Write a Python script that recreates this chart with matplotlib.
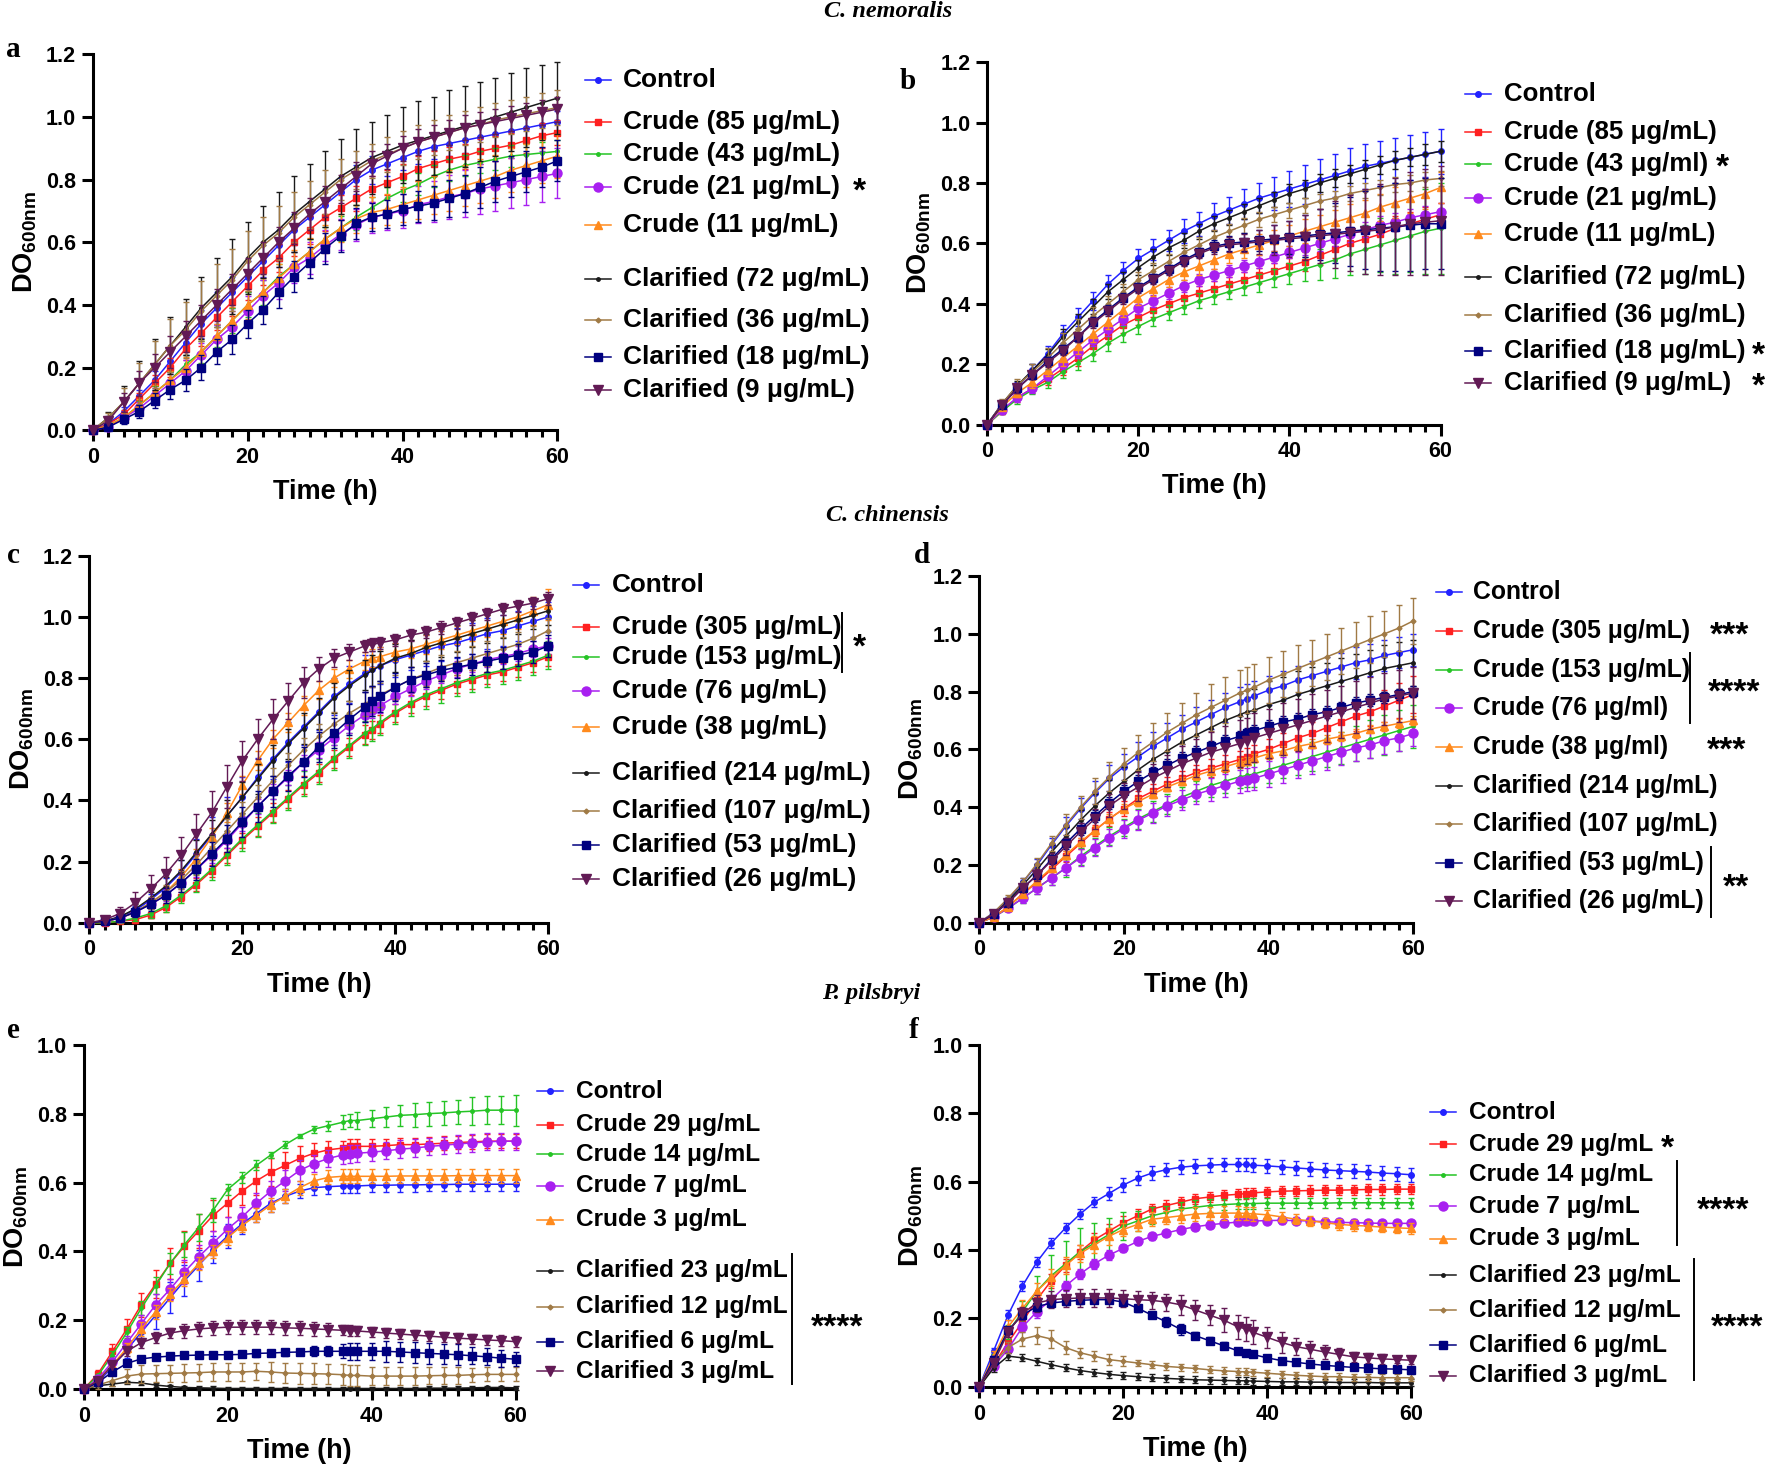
import matplotlib
matplotlib.use("Agg")
import matplotlib.pyplot as plt
from matplotlib.lines import Line2D
from matplotlib.ticker import MultipleLocator, FormatStrFormatter

plt.rcParams["font.family"] = ["Liberation Sans", "DejaVu Sans"]
plt.rcParams["font.weight"] = "bold"
plt.rcParams["mathtext.fontset"] = "custom"
plt.rcParams["mathtext.bf"] = "Liberation Sans:bold"
plt.rcParams["mathtext.rm"] = "Liberation Sans:bold"

# ---------------- data ----------------
t_ab = [0, 2, 4, 6, 8, 10, 12, 14,
        16, 18, 20, 22, 24, 26, 28, 30,
        32, 34, 36, 38, 40, 42, 44, 46,
        48, 50, 52, 54, 56, 58, 60]
t_cf = [0, 2, 4, 6, 8, 10, 12, 14,
        16, 18, 20, 22, 24, 26, 28, 30,
        32, 34, 36, 37, 38, 40, 42, 44,
        46, 48, 50, 52, 54, 56, 58, 60]

# panel a - C. nemoralis
a_ctrl = [0, 0.02, 0.06, 0.11, 0.16, 0.22, 0.28, 0.34,
          0.39, 0.44, 0.49, 0.54, 0.59, 0.64, 0.68, 0.72,
          0.76, 0.80, 0.83, 0.85, 0.87, 0.89, 0.905, 0.915,
          0.925, 0.935, 0.945, 0.955, 0.965, 0.975, 0.985]
a_cr1 = [0, 0.02, 0.05, 0.10, 0.15, 0.20, 0.26, 0.31,
         0.36, 0.41, 0.46, 0.51, 0.55, 0.60, 0.64, 0.68,
         0.71, 0.74, 0.77, 0.79, 0.81, 0.835, 0.85, 0.865,
         0.875, 0.89, 0.90, 0.91, 0.925, 0.94, 0.95]
a_cr2 = [0, 0.015, 0.04, 0.08, 0.12, 0.16, 0.21, 0.25,
         0.30, 0.35, 0.40, 0.44, 0.49, 0.53, 0.57, 0.61,
         0.645, 0.68, 0.71, 0.74, 0.765, 0.785, 0.81, 0.83,
         0.845, 0.855, 0.865, 0.875, 0.88, 0.885, 0.89]
a_cr3 = [0, 0.01, 0.04, 0.07, 0.11, 0.15, 0.19, 0.24,
         0.29, 0.33, 0.38, 0.43, 0.47, 0.52, 0.55, 0.59,
         0.625, 0.655, 0.68, 0.69, 0.70, 0.72, 0.73, 0.745,
         0.755, 0.77, 0.78, 0.79, 0.80, 0.81, 0.82]
a_cr4 = [0, 0.015, 0.04, 0.08, 0.12, 0.16, 0.20, 0.25,
         0.30, 0.35, 0.40, 0.44, 0.485, 0.53, 0.57, 0.61,
         0.645, 0.675, 0.695, 0.705, 0.72, 0.735, 0.75, 0.765,
         0.78, 0.795, 0.81, 0.83, 0.845, 0.86, 0.875]
a_cl1 = [0, 0.04, 0.09, 0.15, 0.21, 0.27, 0.33, 0.39,
         0.44, 0.49, 0.55, 0.60, 0.64, 0.69, 0.73, 0.77,
         0.81, 0.84, 0.87, 0.89, 0.91, 0.925, 0.94, 0.955,
         0.97, 0.985, 1.0, 1.015, 1.03, 1.045, 1.06]
a_cl2 = [0, 0.04, 0.09, 0.15, 0.21, 0.27, 0.32, 0.38,
         0.43, 0.48, 0.54, 0.59, 0.63, 0.68, 0.72, 0.76,
         0.80, 0.83, 0.86, 0.88, 0.90, 0.92, 0.935, 0.95,
         0.965, 0.975, 0.99, 1.0, 1.01, 1.02, 1.03]
a_cl3 = [0, 0.01, 0.035, 0.06, 0.095, 0.13, 0.16, 0.20,
         0.25, 0.29, 0.34, 0.385, 0.44, 0.49, 0.535, 0.58,
         0.62, 0.66, 0.68, 0.69, 0.705, 0.715, 0.725, 0.74,
         0.755, 0.775, 0.795, 0.81, 0.825, 0.84, 0.86]
a_cl4 = [0, 0.03, 0.09, 0.15, 0.20, 0.25, 0.30, 0.35,
         0.40, 0.45, 0.50, 0.55, 0.60, 0.645, 0.69, 0.73,
         0.77, 0.81, 0.85, 0.875, 0.90, 0.92, 0.935, 0.95,
         0.965, 0.975, 0.985, 0.995, 1.005, 1.015, 1.025]

a_ctrl_e = [0, 0.01, 0.015, 0.02, 0.03, 0.035, 0.04, 0.045,
            0.05, 0.05, 0.05, 0.05, 0.05, 0.05, 0.05, 0.05,
            0.045, 0.045, 0.045, 0.04, 0.04, 0.04, 0.04, 0.04,
            0.04, 0.04, 0.04, 0.04, 0.04, 0.04, 0.035]
a_cr1_e = [0, 0.01, 0.015, 0.02, 0.025, 0.03, 0.035, 0.04,
           0.04, 0.045, 0.045, 0.045, 0.045, 0.045, 0.045, 0.045,
           0.04, 0.04, 0.04, 0.04, 0.04, 0.04, 0.04, 0.04,
           0.04, 0.04, 0.04, 0.04, 0.04, 0.04, 0.04]
a_cr2_e = [0, 0.01, 0.01, 0.015, 0.02, 0.025, 0.03, 0.035,
           0.035, 0.04, 0.04, 0.04, 0.04, 0.04, 0.04, 0.04,
           0.04, 0.04, 0.035, 0.035, 0.035, 0.035, 0.035, 0.035,
           0.035, 0.035, 0.035, 0.035, 0.035, 0.035, 0.035]
a_cr3_e = [0, 0.01, 0.015, 0.02, 0.025, 0.03, 0.035, 0.04,
           0.045, 0.05, 0.05, 0.05, 0.05, 0.05, 0.05, 0.05,
           0.05, 0.05, 0.05, 0.05, 0.055, 0.06, 0.065, 0.07,
           0.075, 0.08, 0.08, 0.08, 0.08, 0.08, 0.08]
a_cr4_e = [0, 0.01, 0.015, 0.02, 0.025, 0.03, 0.035, 0.04,
           0.04, 0.045, 0.045, 0.045, 0.045, 0.045, 0.045, 0.045,
           0.045, 0.045, 0.05, 0.05, 0.055, 0.06, 0.06, 0.065,
           0.065, 0.07, 0.07, 0.07, 0.07, 0.07, 0.07]
a_cl1_e = [0, 0.02, 0.05, 0.07, 0.08, 0.09, 0.09, 0.10,
           0.11, 0.12, 0.115, 0.115, 0.12, 0.12, 0.12, 0.12,
           0.12, 0.12, 0.115, 0.115, 0.12, 0.125, 0.125, 0.13,
           0.13, 0.125, 0.125, 0.125, 0.125, 0.12, 0.115]
a_cl2_e = [0, 0.015, 0.045, 0.065, 0.075, 0.085, 0.09, 0.095,
           0.10, 0.10, 0.095, 0.09, 0.085, 0.08, 0.075, 0.07,
           0.065, 0.06, 0.055, 0.055, 0.055, 0.055, 0.055, 0.055,
           0.055, 0.055, 0.055, 0.055, 0.055, 0.055, 0.055]
a_cl3_e = [0, 0.01, 0.015, 0.02, 0.025, 0.03, 0.035, 0.04,
           0.04, 0.045, 0.045, 0.045, 0.05, 0.05, 0.05, 0.05,
           0.05, 0.05, 0.045, 0.045, 0.05, 0.05, 0.055, 0.06,
           0.06, 0.065, 0.065, 0.065, 0.065, 0.065, 0.065]
a_cl4_e = [0, 0.015, 0.03, 0.04, 0.045, 0.05, 0.05, 0.05,
           0.05, 0.05, 0.05, 0.05, 0.05, 0.05, 0.05, 0.05,
           0.045, 0.045, 0.04, 0.04, 0.04, 0.04, 0.04, 0.04,
           0.04, 0.04, 0.04, 0.04, 0.04, 0.04, 0.04]

# panel b - C. nemoralis
b_ctrl = [0, 0.07, 0.125, 0.18, 0.235, 0.30, 0.355, 0.41,
          0.465, 0.51, 0.55, 0.58, 0.61, 0.64, 0.665, 0.69,
          0.71, 0.73, 0.75, 0.765, 0.78, 0.795, 0.81, 0.825,
          0.84, 0.855, 0.865, 0.875, 0.885, 0.895, 0.905]
b_cr1 = [0, 0.045, 0.09, 0.12, 0.15, 0.185, 0.22, 0.26,
         0.295, 0.33, 0.355, 0.38, 0.40, 0.42, 0.435, 0.45,
         0.465, 0.48, 0.495, 0.51, 0.525, 0.54, 0.56, 0.58,
         0.60, 0.615, 0.63, 0.65, 0.665, 0.68, 0.695]
b_cr2 = [0, 0.045, 0.085, 0.115, 0.14, 0.175, 0.205, 0.235,
         0.27, 0.30, 0.325, 0.35, 0.37, 0.39, 0.41, 0.425,
         0.44, 0.455, 0.47, 0.485, 0.50, 0.515, 0.53, 0.545,
         0.565, 0.58, 0.595, 0.61, 0.625, 0.64, 0.65]
b_cr3 = [0, 0.05, 0.09, 0.12, 0.16, 0.20, 0.24, 0.28,
         0.315, 0.35, 0.385, 0.41, 0.435, 0.46, 0.48, 0.495,
         0.51, 0.525, 0.54, 0.555, 0.57, 0.585, 0.60, 0.615,
         0.63, 0.645, 0.66, 0.67, 0.685, 0.695, 0.705]
b_cr4 = [0, 0.06, 0.105, 0.14, 0.18, 0.22, 0.26, 0.30,
         0.34, 0.38, 0.42, 0.45, 0.48, 0.505, 0.525, 0.545,
         0.565, 0.58, 0.595, 0.61, 0.625, 0.64, 0.655, 0.67,
         0.685, 0.70, 0.72, 0.735, 0.75, 0.765, 0.785]
b_cl1 = [0, 0.07, 0.13, 0.18, 0.23, 0.29, 0.34, 0.39,
         0.44, 0.48, 0.52, 0.555, 0.585, 0.61, 0.64, 0.665,
         0.685, 0.705, 0.725, 0.745, 0.765, 0.78, 0.80, 0.815,
         0.83, 0.845, 0.86, 0.875, 0.885, 0.895, 0.905]
b_cl2 = [0, 0.07, 0.13, 0.175, 0.22, 0.27, 0.315, 0.36,
         0.40, 0.44, 0.48, 0.51, 0.54, 0.57, 0.595, 0.62,
         0.64, 0.66, 0.68, 0.695, 0.71, 0.725, 0.74, 0.75,
         0.765, 0.775, 0.785, 0.795, 0.80, 0.81, 0.815]
b_cl3 = [0, 0.065, 0.12, 0.165, 0.21, 0.25, 0.29, 0.34,
         0.38, 0.42, 0.455, 0.485, 0.515, 0.545, 0.57, 0.59,
         0.60, 0.605, 0.61, 0.615, 0.62, 0.625, 0.63, 0.635,
         0.64, 0.645, 0.65, 0.655, 0.66, 0.665, 0.665]
b_cl4 = [0, 0.065, 0.12, 0.165, 0.205, 0.245, 0.29, 0.335,
         0.375, 0.415, 0.45, 0.48, 0.51, 0.54, 0.565, 0.585,
         0.595, 0.60, 0.605, 0.61, 0.615, 0.62, 0.625, 0.63,
         0.635, 0.64, 0.645, 0.655, 0.665, 0.67, 0.675]

b_ctrl_e = [0, 0.01, 0.015, 0.02, 0.025, 0.03, 0.03, 0.03,
            0.03, 0.03, 0.03, 0.035, 0.035, 0.04, 0.04, 0.045,
            0.045, 0.05, 0.05, 0.055, 0.06, 0.065, 0.07, 0.07,
            0.075, 0.075, 0.075, 0.075, 0.075, 0.075, 0.075]
b_cr1_e = [0, 0.01, 0.015, 0.015, 0.02, 0.02, 0.025, 0.025,
           0.025, 0.025, 0.025, 0.025, 0.025, 0.025, 0.025, 0.025,
           0.025, 0.025, 0.025, 0.025, 0.025, 0.03, 0.03, 0.03,
           0.035, 0.035, 0.035, 0.04, 0.04, 0.04, 0.04]
b_cr2_e = [0, 0.01, 0.015, 0.015, 0.02, 0.02, 0.025, 0.025,
           0.025, 0.025, 0.025, 0.025, 0.025, 0.025, 0.025, 0.025,
           0.025, 0.025, 0.03, 0.03, 0.035, 0.04, 0.05, 0.06,
           0.07, 0.08, 0.09, 0.11, 0.12, 0.14, 0.15]
b_cr3_e = [0, 0.01, 0.015, 0.015, 0.02, 0.02, 0.02, 0.02,
           0.02, 0.02, 0.02, 0.02, 0.02, 0.02, 0.02, 0.02,
           0.02, 0.02, 0.02, 0.02, 0.02, 0.025, 0.025, 0.025,
           0.025, 0.025, 0.03, 0.03, 0.03, 0.03, 0.03]
b_cr4_e = [0, 0.01, 0.015, 0.02, 0.02, 0.025, 0.025, 0.025,
           0.025, 0.025, 0.025, 0.025, 0.025, 0.025, 0.03, 0.03,
           0.03, 0.03, 0.035, 0.035, 0.035, 0.04, 0.04, 0.04,
           0.045, 0.045, 0.045, 0.05, 0.05, 0.05, 0.05]
b_cl1_e = [0, 0.01, 0.015, 0.02, 0.02, 0.025, 0.025, 0.025,
           0.025, 0.025, 0.025, 0.025, 0.025, 0.025, 0.025, 0.025,
           0.025, 0.025, 0.025, 0.025, 0.03, 0.03, 0.03, 0.03,
           0.03, 0.03, 0.03, 0.03, 0.03, 0.035, 0.035]
b_cl2_e = [0, 0.015, 0.02, 0.025, 0.035, 0.035, 0.035, 0.03,
           0.025, 0.025, 0.025, 0.025, 0.025, 0.025, 0.025, 0.025,
           0.025, 0.025, 0.025, 0.025, 0.025, 0.025, 0.025, 0.025,
           0.025, 0.025, 0.025, 0.025, 0.025, 0.025, 0.025]
b_cl3_e = [0, 0.01, 0.015, 0.015, 0.015, 0.015, 0.015, 0.015,
           0.015, 0.015, 0.015, 0.015, 0.015, 0.015, 0.015, 0.02,
           0.025, 0.03, 0.035, 0.045, 0.055, 0.07, 0.085, 0.10,
           0.115, 0.13, 0.14, 0.145, 0.15, 0.15, 0.15]
b_cl4_e = [0, 0.01, 0.015, 0.015, 0.015, 0.015, 0.015, 0.015,
           0.015, 0.015, 0.015, 0.015, 0.015, 0.015, 0.015, 0.02,
           0.025, 0.03, 0.04, 0.05, 0.06, 0.075, 0.09, 0.11,
           0.125, 0.14, 0.15, 0.16, 0.17, 0.175, 0.18]

# panel c - C. chinensis
c_ctrl = [0, 0.005, 0.02, 0.04, 0.075, 0.115, 0.165, 0.225,
          0.285, 0.35, 0.41, 0.475, 0.535, 0.59, 0.64, 0.69,
          0.74, 0.78, 0.815, 0.83, 0.84, 0.86, 0.875, 0.89,
          0.905, 0.915, 0.93, 0.945, 0.955, 0.97, 0.985, 1.0]
c_cr1 = [0, 0.0, 0.005, 0.01, 0.025, 0.05, 0.085, 0.125,
         0.17, 0.22, 0.27, 0.315, 0.36, 0.405, 0.45, 0.49,
         0.535, 0.575, 0.615, 0.63, 0.65, 0.685, 0.715, 0.74,
         0.76, 0.78, 0.795, 0.81, 0.82, 0.835, 0.85, 0.87]
c_cr2 = [0, 0.0, 0.005, 0.015, 0.03, 0.055, 0.09, 0.13,
         0.175, 0.225, 0.275, 0.32, 0.365, 0.41, 0.455, 0.495,
         0.54, 0.58, 0.62, 0.635, 0.655, 0.69, 0.72, 0.745,
         0.765, 0.785, 0.80, 0.815, 0.825, 0.84, 0.855, 0.875]
c_cr3 = [0, 0.005, 0.015, 0.035, 0.06, 0.09, 0.13, 0.175,
         0.22, 0.27, 0.325, 0.38, 0.43, 0.475, 0.525, 0.565,
         0.605, 0.645, 0.68, 0.695, 0.71, 0.74, 0.765, 0.79,
         0.81, 0.83, 0.845, 0.86, 0.87, 0.88, 0.895, 0.905]
c_cr4 = [0, 0.005, 0.015, 0.035, 0.065, 0.10, 0.15, 0.21,
         0.28, 0.36, 0.45, 0.53, 0.60, 0.655, 0.71, 0.76,
         0.80, 0.83, 0.855, 0.865, 0.87, 0.885, 0.895, 0.91,
         0.925, 0.94, 0.955, 0.97, 0.985, 1.0, 1.02, 1.04]
c_cl1 = [0, 0.005, 0.02, 0.045, 0.08, 0.12, 0.17, 0.23,
         0.29, 0.35, 0.41, 0.47, 0.53, 0.585, 0.635, 0.685,
         0.735, 0.775, 0.81, 0.825, 0.84, 0.865, 0.88, 0.90,
         0.915, 0.93, 0.945, 0.96, 0.975, 0.99, 1.005, 1.02]
c_cl2 = [0, 0.005, 0.015, 0.035, 0.065, 0.10, 0.14, 0.19,
         0.245, 0.30, 0.355, 0.41, 0.465, 0.515, 0.565, 0.61,
         0.65, 0.685, 0.715, 0.73, 0.745, 0.77, 0.795, 0.815,
         0.835, 0.85, 0.865, 0.88, 0.895, 0.91, 0.93, 0.955]
c_cl3 = [0, 0.005, 0.015, 0.035, 0.06, 0.09, 0.13, 0.175,
         0.225, 0.275, 0.33, 0.38, 0.43, 0.48, 0.525, 0.575,
         0.62, 0.665, 0.705, 0.725, 0.74, 0.77, 0.795, 0.81,
         0.825, 0.835, 0.845, 0.855, 0.865, 0.875, 0.885, 0.905]
c_cl4 = [0, 0.01, 0.03, 0.065, 0.11, 0.16, 0.22, 0.29,
         0.36, 0.445, 0.53, 0.60, 0.665, 0.725, 0.785, 0.83,
         0.865, 0.885, 0.905, 0.91, 0.915, 0.925, 0.94, 0.95,
         0.965, 0.98, 0.995, 1.01, 1.025, 1.035, 1.045, 1.06]

c_ctrl_e = [0, 0.005, 0.01, 0.015, 0.02, 0.03, 0.04, 0.05,
            0.06, 0.06, 0.065, 0.065, 0.065, 0.065, 0.06, 0.06,
            0.06, 0.06, 0.06, 0.06, 0.06, 0.055, 0.05, 0.05,
            0.05, 0.05, 0.05, 0.05, 0.05, 0.05, 0.05, 0.05]
c_cr1_e = [0, 0.005, 0.005, 0.01, 0.01, 0.015, 0.015, 0.02,
           0.02, 0.025, 0.025, 0.03, 0.03, 0.03, 0.03, 0.03,
           0.03, 0.03, 0.03, 0.03, 0.03, 0.03, 0.03, 0.03,
           0.03, 0.03, 0.03, 0.03, 0.03, 0.03, 0.03, 0.03]
c_cr2_e = [0, 0.005, 0.005, 0.01, 0.015, 0.02, 0.025, 0.03,
           0.035, 0.035, 0.04, 0.04, 0.04, 0.04, 0.04, 0.04,
           0.04, 0.04, 0.04, 0.04, 0.04, 0.04, 0.045, 0.045,
           0.045, 0.045, 0.045, 0.045, 0.045, 0.045, 0.045, 0.045]
c_cr3_e = [0, 0.005, 0.01, 0.01, 0.015, 0.02, 0.02, 0.025,
           0.025, 0.025, 0.025, 0.025, 0.025, 0.025, 0.025, 0.025,
           0.025, 0.025, 0.025, 0.025, 0.025, 0.025, 0.025, 0.025,
           0.025, 0.025, 0.025, 0.025, 0.025, 0.025, 0.025, 0.025]
c_cr4_e = [0, 0.005, 0.01, 0.01, 0.015, 0.02, 0.025, 0.03,
           0.03, 0.03, 0.03, 0.03, 0.03, 0.03, 0.03, 0.03,
           0.03, 0.03, 0.03, 0.03, 0.03, 0.03, 0.03, 0.03,
           0.03, 0.03, 0.035, 0.035, 0.04, 0.04, 0.045, 0.05]
c_cl1_e = [0, 0.005, 0.01, 0.015, 0.02, 0.03, 0.035, 0.04,
           0.045, 0.05, 0.05, 0.05, 0.05, 0.05, 0.05, 0.05,
           0.05, 0.05, 0.05, 0.05, 0.05, 0.045, 0.045, 0.045,
           0.045, 0.045, 0.045, 0.045, 0.045, 0.045, 0.045, 0.045]
c_cl2_e = [0, 0.005, 0.01, 0.015, 0.02, 0.025, 0.03, 0.035,
           0.04, 0.04, 0.04, 0.04, 0.04, 0.04, 0.04, 0.04,
           0.04, 0.04, 0.04, 0.04, 0.04, 0.04, 0.04, 0.04,
           0.04, 0.04, 0.04, 0.04, 0.04, 0.04, 0.04, 0.04]
c_cl3_e = [0, 0.005, 0.01, 0.015, 0.02, 0.025, 0.03, 0.035,
           0.04, 0.045, 0.05, 0.05, 0.05, 0.05, 0.05, 0.05,
           0.05, 0.05, 0.05, 0.05, 0.05, 0.045, 0.04, 0.04,
           0.035, 0.035, 0.035, 0.035, 0.035, 0.035, 0.035, 0.035]
c_cl4_e = [0, 0.01, 0.02, 0.035, 0.045, 0.055, 0.06, 0.065,
           0.07, 0.07, 0.065, 0.065, 0.065, 0.06, 0.05, 0.04,
           0.03, 0.025, 0.02, 0.02, 0.02, 0.02, 0.02, 0.02,
           0.02, 0.02, 0.02, 0.02, 0.02, 0.02, 0.02, 0.02]

# panel d - C. chinensis
d_ctrl = [0, 0.035, 0.08, 0.14, 0.20, 0.27, 0.335, 0.395,
          0.45, 0.50, 0.54, 0.575, 0.61, 0.64, 0.67, 0.695,
          0.72, 0.745, 0.765, 0.775, 0.785, 0.805, 0.82, 0.84,
          0.855, 0.87, 0.885, 0.90, 0.91, 0.925, 0.935, 0.945]
d_cr1 = [0, 0.02, 0.055, 0.10, 0.14, 0.185, 0.23, 0.275,
         0.32, 0.36, 0.395, 0.43, 0.455, 0.48, 0.50, 0.52,
         0.535, 0.55, 0.565, 0.575, 0.585, 0.60, 0.62, 0.64,
         0.655, 0.675, 0.695, 0.715, 0.73, 0.75, 0.77, 0.79]
d_cr2 = [0, 0.02, 0.05, 0.085, 0.12, 0.155, 0.19, 0.23,
         0.265, 0.30, 0.33, 0.36, 0.385, 0.41, 0.435, 0.455,
         0.475, 0.49, 0.505, 0.51, 0.515, 0.53, 0.545, 0.56,
         0.575, 0.59, 0.605, 0.62, 0.635, 0.65, 0.665, 0.68]
d_cr3 = [0, 0.02, 0.05, 0.085, 0.12, 0.155, 0.19, 0.225,
         0.26, 0.295, 0.325, 0.355, 0.38, 0.405, 0.425, 0.445,
         0.46, 0.475, 0.49, 0.495, 0.50, 0.515, 0.53, 0.545,
         0.56, 0.575, 0.59, 0.605, 0.615, 0.63, 0.64, 0.655]
d_cr4 = [0, 0.02, 0.055, 0.10, 0.145, 0.19, 0.235, 0.28,
         0.32, 0.36, 0.395, 0.42, 0.445, 0.47, 0.49, 0.51,
         0.525, 0.54, 0.555, 0.56, 0.57, 0.585, 0.595, 0.61,
         0.62, 0.635, 0.645, 0.655, 0.67, 0.68, 0.69, 0.70]
d_cl1 = [0, 0.03, 0.075, 0.13, 0.185, 0.245, 0.30, 0.355,
         0.405, 0.45, 0.49, 0.53, 0.565, 0.595, 0.625, 0.65,
         0.675, 0.70, 0.72, 0.73, 0.735, 0.755, 0.77, 0.79,
         0.805, 0.82, 0.835, 0.85, 0.865, 0.88, 0.89, 0.90]
d_cl2 = [0, 0.035, 0.085, 0.14, 0.205, 0.275, 0.34, 0.40,
         0.455, 0.505, 0.55, 0.59, 0.625, 0.66, 0.69, 0.72,
         0.745, 0.77, 0.795, 0.805, 0.815, 0.84, 0.86, 0.88,
         0.90, 0.92, 0.94, 0.96, 0.98, 1.0, 1.02, 1.045]
d_cl3 = [0, 0.03, 0.07, 0.12, 0.165, 0.22, 0.275, 0.325,
         0.37, 0.415, 0.455, 0.49, 0.52, 0.545, 0.57, 0.59,
         0.61, 0.63, 0.645, 0.655, 0.665, 0.68, 0.695, 0.705,
         0.72, 0.73, 0.745, 0.76, 0.77, 0.78, 0.79, 0.80]
d_cl4 = [0, 0.03, 0.07, 0.12, 0.165, 0.215, 0.265, 0.315,
         0.36, 0.405, 0.44, 0.47, 0.50, 0.525, 0.55, 0.57,
         0.59, 0.605, 0.62, 0.63, 0.64, 0.655, 0.67, 0.685,
         0.70, 0.715, 0.73, 0.745, 0.76, 0.775, 0.785, 0.795]

d_ctrl_e = [0, 0.005, 0.01, 0.015, 0.02, 0.025, 0.03, 0.035,
            0.04, 0.045, 0.045, 0.05, 0.05, 0.05, 0.05, 0.05,
            0.05, 0.05, 0.05, 0.05, 0.05, 0.05, 0.05, 0.05,
            0.05, 0.05, 0.05, 0.055, 0.055, 0.055, 0.055, 0.055]
d_cr1_e = [0, 0.005, 0.01, 0.015, 0.02, 0.02, 0.02, 0.02,
           0.02, 0.025, 0.025, 0.025, 0.025, 0.025, 0.025, 0.025,
           0.03, 0.03, 0.03, 0.03, 0.03, 0.035, 0.035, 0.04,
           0.04, 0.045, 0.045, 0.05, 0.05, 0.055, 0.06, 0.065]
d_cr2_e = [0, 0.005, 0.01, 0.015, 0.02, 0.025, 0.03, 0.03,
           0.03, 0.03, 0.03, 0.035, 0.035, 0.035, 0.035, 0.035,
           0.04, 0.04, 0.04, 0.04, 0.045, 0.045, 0.045, 0.05,
           0.05, 0.05, 0.055, 0.06, 0.065, 0.07, 0.07, 0.075]
d_cr3_e = [0, 0.005, 0.01, 0.015, 0.02, 0.025, 0.025, 0.03,
           0.03, 0.03, 0.03, 0.035, 0.035, 0.035, 0.035, 0.035,
           0.04, 0.04, 0.04, 0.04, 0.04, 0.045, 0.045, 0.045,
           0.045, 0.045, 0.045, 0.045, 0.045, 0.045, 0.045, 0.045]
d_cr4_e = [0, 0.005, 0.01, 0.01, 0.015, 0.015, 0.015, 0.015,
           0.015, 0.015, 0.015, 0.015, 0.015, 0.015, 0.015, 0.015,
           0.015, 0.015, 0.015, 0.015, 0.015, 0.015, 0.015, 0.015,
           0.015, 0.015, 0.015, 0.015, 0.015, 0.015, 0.015, 0.015]
d_cl1_e = [0, 0.005, 0.01, 0.015, 0.02, 0.025, 0.03, 0.035,
           0.04, 0.045, 0.05, 0.055, 0.06, 0.065, 0.065, 0.07,
           0.07, 0.075, 0.075, 0.075, 0.075, 0.08, 0.08, 0.08,
           0.08, 0.08, 0.08, 0.08, 0.08, 0.08, 0.08, 0.08]
d_cl2_e = [0, 0.005, 0.01, 0.015, 0.02, 0.025, 0.035, 0.04,
           0.045, 0.05, 0.055, 0.06, 0.065, 0.065, 0.07, 0.075,
           0.08, 0.08, 0.08, 0.08, 0.08, 0.08, 0.08, 0.08,
           0.08, 0.08, 0.08, 0.08, 0.08, 0.08, 0.08, 0.08]
d_cl3_e = [0, 0.005, 0.01, 0.01, 0.015, 0.015, 0.02, 0.02,
           0.02, 0.02, 0.02, 0.02, 0.02, 0.02, 0.02, 0.02,
           0.02, 0.02, 0.02, 0.02, 0.02, 0.02, 0.02, 0.02,
           0.02, 0.02, 0.02, 0.02, 0.02, 0.02, 0.02, 0.02]
d_cl4_e = [0, 0.005, 0.01, 0.015, 0.02, 0.025, 0.03, 0.03,
           0.035, 0.04, 0.045, 0.05, 0.05, 0.055, 0.06, 0.065,
           0.07, 0.075, 0.08, 0.08, 0.085, 0.085, 0.09, 0.09,
           0.09, 0.09, 0.09, 0.09, 0.09, 0.09, 0.09, 0.09]

# panel e - P. pilsbryi
e_ctrl = [0, 0.02, 0.065, 0.115, 0.165, 0.215, 0.265, 0.315,
          0.36, 0.405, 0.445, 0.48, 0.51, 0.54, 0.56, 0.575,
          0.585, 0.588, 0.59, 0.59, 0.59, 0.592, 0.592, 0.593,
          0.593, 0.594, 0.594, 0.595, 0.595, 0.595, 0.595, 0.595]
e_cr1 = [0, 0.045, 0.11, 0.175, 0.245, 0.305, 0.365, 0.415,
         0.46, 0.505, 0.54, 0.575, 0.605, 0.63, 0.65, 0.67,
         0.685, 0.695, 0.70, 0.705, 0.705, 0.705, 0.707, 0.71,
         0.71, 0.712, 0.714, 0.716, 0.718, 0.72, 0.72, 0.72]
e_cr2 = [0, 0.04, 0.10, 0.165, 0.235, 0.30, 0.365, 0.42,
         0.47, 0.52, 0.58, 0.615, 0.65, 0.68, 0.71, 0.735,
         0.755, 0.765, 0.775, 0.78, 0.78, 0.785, 0.79, 0.795,
         0.797, 0.80, 0.802, 0.805, 0.807, 0.81, 0.81, 0.81]
e_cr3 = [0, 0.03, 0.08, 0.135, 0.19, 0.245, 0.29, 0.34,
         0.385, 0.425, 0.465, 0.50, 0.54, 0.575, 0.605, 0.635,
         0.655, 0.67, 0.68, 0.683, 0.685, 0.688, 0.692, 0.697,
         0.70, 0.705, 0.708, 0.712, 0.715, 0.718, 0.72, 0.72]
e_cr4 = [0, 0.025, 0.07, 0.12, 0.175, 0.225, 0.275, 0.32,
         0.365, 0.40, 0.44, 0.475, 0.505, 0.535, 0.56, 0.585,
         0.605, 0.615, 0.618, 0.618, 0.618, 0.618, 0.618, 0.619,
         0.619, 0.619, 0.619, 0.62, 0.62, 0.62, 0.62, 0.62]
e_cl1 = [0, 0.01, 0.015, 0.02, 0.018, 0.012, 0.008, 0.005,
         0.004, 0.003, 0.002, 0.002, 0.002, 0.002, 0.002, 0.002,
         0.002, 0.002, 0.002, 0.002, 0.002, 0.002, 0.002, 0.002,
         0.002, 0.003, 0.003, 0.003, 0.004, 0.005, 0.005, 0.004]
e_cl2 = [0, 0.012, 0.025, 0.038, 0.044, 0.045, 0.046, 0.047,
         0.048, 0.05, 0.05, 0.05, 0.052, 0.05, 0.047, 0.046,
         0.045, 0.044, 0.042, 0.04, 0.04, 0.038, 0.038, 0.038,
         0.038, 0.039, 0.04, 0.04, 0.042, 0.043, 0.043, 0.043]
e_cl3 = [0, 0.02, 0.05, 0.075, 0.088, 0.093, 0.096, 0.098,
         0.099, 0.10, 0.10, 0.101, 0.104, 0.105, 0.107, 0.108,
         0.11, 0.11, 0.11, 0.11, 0.11, 0.11, 0.11, 0.108,
         0.106, 0.104, 0.102, 0.10, 0.097, 0.094, 0.09, 0.087]
e_cl4 = [0, 0.025, 0.07, 0.11, 0.135, 0.15, 0.163, 0.17,
         0.175, 0.178, 0.18, 0.18, 0.18, 0.18, 0.178, 0.177,
         0.175, 0.173, 0.171, 0.17, 0.169, 0.166, 0.163, 0.16,
         0.157, 0.154, 0.151, 0.148, 0.146, 0.143, 0.141, 0.138]

e_ctrl_e = [0, 0.01, 0.015, 0.025, 0.03, 0.04, 0.045, 0.045,
            0.045, 0.04, 0.035, 0.03, 0.025, 0.025, 0.02, 0.02,
            0.02, 0.02, 0.02, 0.02, 0.02, 0.02, 0.02, 0.02,
            0.02, 0.02, 0.02, 0.02, 0.02, 0.02, 0.02, 0.02]
e_cr1_e = [0, 0.01, 0.02, 0.03, 0.035, 0.04, 0.045, 0.045,
           0.05, 0.045, 0.04, 0.04, 0.04, 0.04, 0.04, 0.035,
           0.03, 0.025, 0.02, 0.02, 0.02, 0.02, 0.02, 0.02,
           0.02, 0.02, 0.02, 0.02, 0.02, 0.02, 0.02, 0.02]
e_cr2_e = [0, 0.005, 0.01, 0.015, 0.02, 0.025, 0.03, 0.035,
           0.04, 0.035, 0.015, 0.015, 0.015, 0.01, 0.01, 0.005,
           0.01, 0.015, 0.02, 0.02, 0.025, 0.025, 0.03, 0.03,
           0.035, 0.035, 0.035, 0.035, 0.04, 0.04, 0.04, 0.045]
e_cr3_e = [0, 0.01, 0.015, 0.02, 0.025, 0.03, 0.03, 0.035,
           0.035, 0.035, 0.035, 0.03, 0.03, 0.03, 0.03, 0.03,
           0.025, 0.025, 0.025, 0.025, 0.025, 0.025, 0.025, 0.025,
           0.025, 0.025, 0.025, 0.025, 0.025, 0.025, 0.025, 0.025]
e_cr4_e = [0, 0.005, 0.01, 0.015, 0.02, 0.02, 0.02, 0.02,
           0.02, 0.02, 0.02, 0.02, 0.02, 0.02, 0.02, 0.02,
           0.02, 0.02, 0.02, 0.02, 0.02, 0.02, 0.02, 0.02,
           0.02, 0.02, 0.02, 0.02, 0.02, 0.02, 0.02, 0.02]
e_cl1_e = [0, 0.005, 0.005, 0.005, 0.005, 0.005, 0.005, 0.005,
           0.005, 0.005, 0.005, 0.005, 0.005, 0.005, 0.005, 0.005,
           0.005, 0.005, 0.005, 0.005, 0.005, 0.005, 0.005, 0.005,
           0.005, 0.005, 0.005, 0.005, 0.005, 0.005, 0.005, 0.005]
e_cl2_e = [0, 0.01, 0.015, 0.02, 0.025, 0.025, 0.025, 0.025,
           0.025, 0.025, 0.025, 0.025, 0.025, 0.03, 0.03, 0.03,
           0.03, 0.03, 0.03, 0.03, 0.03, 0.025, 0.025, 0.025,
           0.025, 0.025, 0.025, 0.025, 0.02, 0.02, 0.02, 0.02]
e_cl3_e = [0, 0.005, 0.005, 0.005, 0.005, 0.005, 0.005, 0.005,
           0.005, 0.005, 0.005, 0.005, 0.01, 0.01, 0.01, 0.01,
           0.015, 0.015, 0.02, 0.025, 0.025, 0.025, 0.03, 0.03,
           0.03, 0.03, 0.03, 0.03, 0.025, 0.025, 0.025, 0.02]
e_cl4_e = [0, 0.005, 0.01, 0.015, 0.015, 0.015, 0.015, 0.02,
           0.02, 0.02, 0.02, 0.02, 0.02, 0.02, 0.02, 0.02,
           0.02, 0.02, 0.015, 0.015, 0.015, 0.015, 0.015, 0.015,
           0.015, 0.015, 0.015, 0.015, 0.015, 0.015, 0.015, 0.015]

# panel f - P. pilsbryi
f_ctrl = [0, 0.105, 0.21, 0.295, 0.365, 0.42, 0.465, 0.505,
          0.54, 0.565, 0.59, 0.61, 0.625, 0.635, 0.642, 0.646,
          0.648, 0.65, 0.65, 0.65, 0.648, 0.646, 0.643, 0.64,
          0.637, 0.634, 0.632, 0.63, 0.628, 0.625, 0.623, 0.62]
f_cr1 = [0, 0.065, 0.13, 0.19, 0.255, 0.31, 0.355, 0.395,
         0.43, 0.455, 0.48, 0.50, 0.52, 0.53, 0.54, 0.55,
         0.555, 0.56, 0.563, 0.565, 0.567, 0.57, 0.572, 0.573,
         0.574, 0.575, 0.575, 0.576, 0.577, 0.577, 0.578, 0.578]
f_cr2 = [0, 0.085, 0.16, 0.22, 0.28, 0.325, 0.36, 0.395,
         0.42, 0.445, 0.47, 0.485, 0.50, 0.51, 0.52, 0.525,
         0.53, 0.533, 0.535, 0.536, 0.536, 0.537, 0.537, 0.537,
         0.537, 0.537, 0.538, 0.538, 0.538, 0.538, 0.538, 0.538]
f_cr3 = [0, 0.06, 0.11, 0.175, 0.22, 0.255, 0.295, 0.33,
         0.36, 0.385, 0.405, 0.425, 0.44, 0.45, 0.46, 0.468,
         0.474, 0.478, 0.482, 0.484, 0.485, 0.486, 0.487, 0.486,
         0.485, 0.483, 0.481, 0.48, 0.479, 0.478, 0.478, 0.478]
f_cr4 = [0, 0.09, 0.175, 0.23, 0.28, 0.32, 0.355, 0.39,
         0.415, 0.44, 0.46, 0.475, 0.49, 0.495, 0.50, 0.505,
         0.507, 0.508, 0.508, 0.507, 0.506, 0.503, 0.497, 0.49,
         0.485, 0.48, 0.475, 0.472, 0.47, 0.467, 0.465, 0.463]
f_cl1 = [0, 0.055, 0.09, 0.085, 0.075, 0.065, 0.056, 0.048,
         0.042, 0.037, 0.033, 0.03, 0.027, 0.025, 0.023, 0.021,
         0.02, 0.019, 0.018, 0.018, 0.017, 0.016, 0.015, 0.015,
         0.014, 0.014, 0.013, 0.013, 0.013, 0.012, 0.012, 0.012]
f_cl2 = [0, 0.07, 0.115, 0.14, 0.15, 0.14, 0.115, 0.10,
         0.09, 0.08, 0.075, 0.07, 0.065, 0.06, 0.057, 0.054,
         0.05, 0.047, 0.045, 0.044, 0.043, 0.04, 0.037, 0.034,
         0.032, 0.03, 0.03, 0.028, 0.028, 0.027, 0.027, 0.027]
f_cl3 = [0, 0.08, 0.165, 0.21, 0.235, 0.245, 0.25, 0.253,
         0.255, 0.255, 0.248, 0.23, 0.21, 0.19, 0.168, 0.15,
         0.135, 0.12, 0.105, 0.10, 0.095, 0.085, 0.077, 0.072,
         0.067, 0.063, 0.06, 0.057, 0.055, 0.053, 0.052, 0.05]
f_cl4 = [0, 0.07, 0.16, 0.215, 0.245, 0.255, 0.258, 0.26,
         0.26, 0.26, 0.258, 0.255, 0.253, 0.248, 0.24, 0.225,
         0.21, 0.195, 0.175, 0.17, 0.16, 0.145, 0.13, 0.118,
         0.11, 0.102, 0.095, 0.088, 0.085, 0.082, 0.08, 0.078]

f_ctrl_e = [0, 0.01, 0.015, 0.015, 0.015, 0.015, 0.015, 0.015,
            0.015, 0.02, 0.02, 0.02, 0.02, 0.02, 0.02, 0.02,
            0.02, 0.02, 0.02, 0.02, 0.02, 0.02, 0.02, 0.02,
            0.02, 0.02, 0.02, 0.02, 0.02, 0.02, 0.02, 0.02]
f_cr1_e = [0, 0.01, 0.015, 0.02, 0.02, 0.02, 0.02, 0.02,
           0.02, 0.02, 0.02, 0.02, 0.015, 0.015, 0.015, 0.015,
           0.015, 0.015, 0.015, 0.015, 0.015, 0.015, 0.015, 0.015,
           0.015, 0.015, 0.015, 0.015, 0.015, 0.015, 0.015, 0.015]
f_cr2_e = [0, 0.01, 0.02, 0.03, 0.045, 0.06, 0.065, 0.07,
           0.06, 0.05, 0.04, 0.03, 0.025, 0.02, 0.02, 0.02,
           0.02, 0.015, 0.015, 0.015, 0.015, 0.015, 0.015, 0.015,
           0.015, 0.015, 0.015, 0.015, 0.015, 0.015, 0.015, 0.015]
f_cr3_e = [0, 0.01, 0.01, 0.015, 0.02, 0.015, 0.015, 0.015,
           0.015, 0.015, 0.01, 0.01, 0.01, 0.01, 0.01, 0.01,
           0.01, 0.01, 0.01, 0.01, 0.01, 0.01, 0.01, 0.01,
           0.01, 0.01, 0.01, 0.01, 0.01, 0.01, 0.01, 0.01]
f_cr4_e = [0, 0.015, 0.02, 0.025, 0.025, 0.025, 0.025, 0.025,
           0.025, 0.025, 0.02, 0.02, 0.02, 0.02, 0.02, 0.02,
           0.02, 0.02, 0.02, 0.02, 0.02, 0.015, 0.015, 0.015,
           0.015, 0.015, 0.015, 0.015, 0.015, 0.015, 0.015, 0.015]
f_cl1_e = [0, 0.01, 0.01, 0.01, 0.01, 0.01, 0.01, 0.01,
           0.01, 0.01, 0.01, 0.01, 0.01, 0.01, 0.01, 0.01,
           0.01, 0.01, 0.01, 0.01, 0.01, 0.01, 0.01, 0.01,
           0.01, 0.01, 0.01, 0.01, 0.01, 0.01, 0.01, 0.01]
f_cl2_e = [0, 0.01, 0.015, 0.02, 0.025, 0.025, 0.02, 0.015,
           0.015, 0.015, 0.015, 0.01, 0.01, 0.01, 0.01, 0.01,
           0.01, 0.01, 0.01, 0.01, 0.01, 0.01, 0.01, 0.01,
           0.01, 0.01, 0.01, 0.01, 0.01, 0.01, 0.01, 0.01]
f_cl3_e = [0, 0.01, 0.01, 0.01, 0.01, 0.01, 0.01, 0.01,
           0.01, 0.01, 0.01, 0.01, 0.01, 0.015, 0.015, 0.01,
           0.01, 0.01, 0.005, 0.005, 0.005, 0.005, 0.005, 0.005,
           0.005, 0.005, 0.005, 0.005, 0.005, 0.005, 0.005, 0.005]
f_cl4_e = [0, 0.01, 0.015, 0.02, 0.025, 0.025, 0.025, 0.025,
           0.025, 0.025, 0.025, 0.025, 0.025, 0.025, 0.03, 0.03,
           0.03, 0.035, 0.035, 0.035, 0.035, 0.03, 0.03, 0.025,
           0.025, 0.02, 0.02, 0.015, 0.015, 0.015, 0.01, 0.01]

labels_a = ["Control", "Crude (85 μg/mL)", "Crude (43 μg/mL)", "Crude (21 μg/mL)",
            "Crude (11 μg/mL)", "Clarified (72 μg/mL)", "Clarified (36 μg/mL)",
            "Clarified (18 μg/mL)", "Clarified (9 μg/mL)"]
labels_b = ["Control", "Crude (85 μg/mL)", "Crude (43 μg/ml)", "Crude (21 μg/mL)",
            "Crude (11 μg/mL)", "Clarified (72 μg/mL)", "Clarified (36 μg/mL)",
            "Clarified (18 μg/mL)", "Clarified (9 μg/mL)"]
labels_c = ["Control", "Crude (305 μg/mL)", "Crude (153 μg/mL)", "Crude (76 μg/mL)",
            "Crude (38 μg/mL)", "Clarified (214 μg/mL)", "Clarified (107 μg/mL)",
            "Clarified (53 μg/mL)", "Clarified (26 μg/mL)"]
labels_d = ["Control", "Crude (305 μg/mL)", "Crude (153 μg/mL)", "Crude (76 μg/ml)",
            "Crude (38 μg/ml)", "Clarified (214 μg/mL)", "Clarified (107 μg/mL)",
            "Clarified (53 μg/mL)", "Clarified (26 μg/mL)"]
labels_ef = ["Control", "Crude 29 μg/mL", "Crude 14 μg/mL", "Crude 7 μg/mL",
             "Crude 3 μg/mL", "Clarified 23 μg/mL", "Clarified 12 μg/mL",
             "Clarified 6 μg/mL", "Clarified 3 μg/mL"]

# ---------------- style ----------------
colors = ["#2222ff", "#ff2020", "#25c425", "#a81ff0", "#ff8a1c",
          "#1a1a1a", "#a07a45", "#00007f", "#621a55"]
markers = ["o", "s", "o", "o", "^", "o", "D", "s", "v"]
msizes = [4, 4, 2.5, 6.5, 6, 2.5, 2.5, 6, 6.5]

W, H = 1568.0, 1298.0   # reference frame used for placement


def fx(x):
    return x / W


def fy(y):
    return 1 - y / H


fig = plt.figure(figsize=(17.73, 14.66), dpi=100)


def panel(box, t, ys, es, ymax):
    x0, x1, ytop, ybot = box
    ax = fig.add_axes([fx(x0), fy(ybot), fx(x1) - fx(x0), (ybot - ytop) / H])
    for i in range(len(ys)):
        ax.errorbar(t, ys[i], yerr=es[i], color=colors[i], marker=markers[i],
                    ms=msizes[i], lw=1.1, elinewidth=1.0, capsize=2.2,
                    capthick=1.0, clip_on=False, zorder=3 + i * 0.1)
    ax.set_xlim(0, 60)
    ax.set_ylim(0, ymax)
    for s in ["top", "right"]:
        ax.spines[s].set_visible(False)
    for s in ["left", "bottom"]:
        ax.spines[s].set_linewidth(2.2)
    ax.xaxis.set_major_locator(MultipleLocator(20))
    ax.xaxis.set_minor_locator(MultipleLocator(2))
    ax.yaxis.set_major_locator(MultipleLocator(0.2))
    ax.yaxis.set_major_formatter(FormatStrFormatter("%.1f"))
    ax.tick_params(axis="both", which="major", length=8, width=2.2,
                   labelsize=15.5, pad=4)
    ax.tick_params(axis="x", which="minor", length=5, width=2.2)
    for lab in ax.get_xticklabels() + ax.get_yticklabels():
        lab.set_fontweight("bold")
    ax.set_xlabel("Time (h)", fontsize=19.5, fontweight="bold", labelpad=8)
    ax.set_ylabel(r"$\mathbf{DO_{600nm}}$", fontsize=19.5, labelpad=5)
    return ax


def legend(xl0, xl1, xt, rows, labels, fs):
    for i, y in enumerate(rows):
        fig.add_artist(Line2D([fx(xl0), fx(xl1)], [fy(y), fy(y)],
                              transform=fig.transFigure, color=colors[i], lw=1.1))
        fig.add_artist(Line2D([fx((xl0 + xl1) / 2)], [fy(y)],
                              transform=fig.transFigure, color=colors[i],
                              marker=markers[i], ms=msizes[i], lw=0))
        fig.text(fx(xt), fy(y), labels[i], fontsize=fs, fontweight="bold",
                 va="center", ha="left")


def stars(x, y, s):
    fig.text(fx(x), fy(y), s, fontsize=24, fontweight="bold",
             va="center", ha="center")


def vbar(x, y0, y1):
    fig.add_artist(Line2D([fx(x), fx(x)], [fy(y0), fy(y1)],
                          transform=fig.transFigure, color="black", lw=1.4))


# panels
panel((82, 493, 48, 381), t_ab,
      [a_ctrl, a_cr1, a_cr2, a_cr3, a_cr4, a_cl1, a_cl2, a_cl3, a_cl4],
      [a_ctrl_e, a_cr1_e, a_cr2_e, a_cr3_e, a_cr4_e, a_cl1_e, a_cl2_e, a_cl3_e, a_cl4_e], 1.2)
panel((873, 1274, 55, 376), t_ab,
      [b_ctrl, b_cr1, b_cr2, b_cr3, b_cr4, b_cl1, b_cl2, b_cl3, b_cl4],
      [b_ctrl_e, b_cr1_e, b_cr2_e, b_cr3_e, b_cr4_e, b_cl1_e, b_cl2_e, b_cl3_e, b_cl4_e], 1.2)
panel((79, 485, 492, 817), t_cf,
      [c_ctrl, c_cr1, c_cr2, c_cr3, c_cr4, c_cl1, c_cl2, c_cl3, c_cl4],
      [c_ctrl_e, c_cr1_e, c_cr2_e, c_cr3_e, c_cr4_e, c_cl1_e, c_cl2_e, c_cl3_e, c_cl4_e], 1.2)
panel((866, 1250, 510, 817), t_cf,
      [d_ctrl, d_cr1, d_cr2, d_cr3, d_cr4, d_cl1, d_cl2, d_cl3, d_cl4],
      [d_ctrl_e, d_cr1_e, d_cr2_e, d_cr3_e, d_cr4_e, d_cl1_e, d_cl2_e, d_cl3_e, d_cl4_e], 1.2)
panel((74, 456, 925, 1230), t_cf,
      [e_ctrl, e_cr1, e_cr2, e_cr3, e_cr4, e_cl1, e_cl2, e_cl3, e_cl4],
      [e_ctrl_e, e_cr1_e, e_cr2_e, e_cr3_e, e_cr4_e, e_cl1_e, e_cl2_e, e_cl3_e, e_cl4_e], 1.0)
panel((866, 1248, 925, 1228), t_cf,
      [f_ctrl, f_cr1, f_cr2, f_cr3, f_cr4, f_cl1, f_cl2, f_cl3, f_cl4],
      [f_ctrl_e, f_cr1_e, f_cr2_e, f_cr3_e, f_cr4_e, f_cl1_e, f_cl2_e, f_cl3_e, f_cl4_e], 1.0)

# legends
legend(517, 540, 551, [71, 108, 136, 166, 199, 247, 283, 316, 345], labels_a, 19)
legend(1296, 1319, 1330, [83, 117, 145, 175, 207, 245, 279, 311, 339], labels_b, 18.6)
legend(507, 530, 541, [518, 555, 582, 612, 644, 684, 718, 748, 778], labels_c, 18.8)
legend(1270, 1293, 1303, [524, 559, 593, 627, 661, 696, 730, 764, 798], labels_d, 17.8)
legend(475, 498, 509, [966, 996, 1022, 1050, 1080, 1125, 1157, 1188, 1214], labels_ef, 17.6)
legend(1265, 1288, 1299, [985, 1013, 1040, 1068, 1097, 1129, 1160, 1191, 1218], labels_ef, 17.6)

# significance marks
stars(760, 170, "*")
stars(1523, 149, "*")
stars(1555, 315, "*")
stars(1555, 343, "*")
vbar(745, 543, 595)
stars(760, 574, "*")
stars(1530, 563, "***")
vbar(1495, 578, 640)
stars(1534, 614, "****")
stars(1527, 665, "***")
vbar(1513, 750, 812)
stars(1535, 786, "**")
vbar(700, 1110, 1225)
stars(740, 1176, "****")
stars(1475, 1017, "*")
vbar(1483, 1028, 1102)
stars(1524, 1072, "****")
vbar(1498, 1115, 1222)
stars(1536, 1176, "****")

# panel letters and species titles
for x, y, s in [(12, 44, "a"), (803, 72, "b"), (12, 492, "c"),
                (815, 492, "d"), (12, 912, "e"), (808, 912, "f")]:
    fig.text(fx(x), fy(y), s, family="Liberation Serif", fontweight="bold",
             fontsize=21, ha="center", va="center")
for x, y, s in [(785, 10, "C. nemoralis"), (785, 456, "C. chinensis"),
                (770, 880, "P. pilsbryi")]:
    fig.text(fx(x), fy(y), s, family="Liberation Serif", fontweight="bold",
             style="italic", fontsize=17.5, ha="center", va="center")

fig.savefig("out.png", dpi=100)
